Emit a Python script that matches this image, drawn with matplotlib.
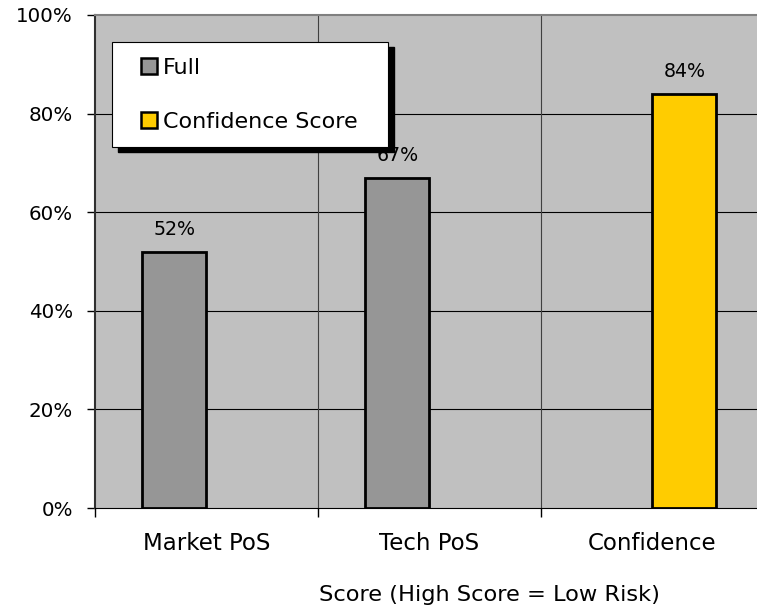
#!/usr/bin/env python3
import matplotlib
matplotlib.use('Agg')
import matplotlib.pyplot as plt
from matplotlib.patches import Rectangle
import numpy as np

categories = ['Market PoS', 'Tech PoS', 'Confidence']
full_values = [52, 67, None]
confidence_values = [None, None, 84]
y_ticks = [0, 20, 40, 60, 80, 100]
legend_labels = ['Full', 'Confidence Score']

W, H = 757, 608
DPI = 100


def px_box(x0, y0, x1, y1):
    # pixel box (top-left origin) -> figure fraction [left, bottom, width, height]
    return [x0 / W, 1 - y1 / H, (x1 - x0) / W, (y1 - y0) / H]


def main():
    plt.rcParams['font.family'] = 'DejaVu Sans'
    fig = plt.figure(figsize=(W / DPI, H / DPI), dpi=DPI)
    ax = fig.add_axes(px_box(95, 15, 757, 508))
    ax.set_facecolor('#C0C0C0')

    x = np.arange(len(categories))
    bw = 0.287
    for i in x:
        if full_values[i] is not None:
            ax.bar(i - bw / 2, full_values[i], width=bw, color='#969696',
                   edgecolor='black', linewidth=2, zorder=3)
            ax.text(i - bw / 2, full_values[i] + 3.4, f'{full_values[i]}%',
                    ha='center', va='baseline', fontsize=13.7, zorder=4)
        if confidence_values[i] is not None:
            ax.bar(i + bw / 2, confidence_values[i], width=bw, color='#FFCC00',
                   edgecolor='black', linewidth=2, zorder=3)
            ax.text(i + bw / 2, confidence_values[i] + 3.4, f'{confidence_values[i]}%',
                    ha='center', va='baseline', fontsize=13.7, zorder=4)

    ax.set_ylim(0, 100)
    ax.set_xlim(-0.5, 2.469)
    ax.set_yticks(y_ticks)
    ax.set_yticklabels([f'{v}%' for v in y_ticks], fontsize=14.3)
    ax.set_xticks(x)
    ax.set_xticklabels(categories, fontsize=16.5)
    ax.set_xticks([-0.5, 0.5, 1.5], minor=True)
    ax.tick_params(axis='x', which='major', length=0, pad=17)
    ax.tick_params(axis='x', which='minor', length=6.5, width=1, color='black')
    ax.tick_params(axis='y', length=6, width=1, color='black', direction='out', pad=10)

    for v in y_ticks[1:-1]:
        ax.axhline(v, color='black', linewidth=0.8, zorder=1)
    for b in [0.5, 1.5]:
        ax.axvline(b, color='#404040', linewidth=0.8, zorder=1)

    ax.spines['left'].set_color('#303030')
    ax.spines['left'].set_linewidth(1.5)
    ax.spines['bottom'].set_color('black')
    ax.spines['top'].set_color('#808080')
    ax.spines['top'].set_linewidth(1.5)
    ax.spines['right'].set_visible(False)

    fig.text(489 / W, 1 - 595 / H, 'Score (High Score = Low Risk)',
             ha='center', va='center', fontsize=16.2)

    # legend box with solid drop shadow
    shadow = Rectangle((118 / W, 1 - 152 / H), (388 - 112) / W, (147 - 42) / H,
                       transform=fig.transFigure, facecolor='black',
                       edgecolor='black', zorder=5)
    box = Rectangle((112 / W, 1 - 147 / H), (388 - 112) / W, (147 - 42) / H,
                    transform=fig.transFigure, facecolor='white',
                    edgecolor='black', linewidth=0.8, zorder=6)
    fig.add_artist(shadow)
    fig.add_artist(box)
    handles = [Rectangle((0, 0), 1, 1, facecolor='#969696', edgecolor='black', linewidth=1.8),
               Rectangle((0, 0), 1, 1, facecolor='#FFCC00', edgecolor='black', linewidth=1.8)]
    leg = fig.legend(handles, legend_labels, loc='upper left',
                     bbox_to_anchor=(141 / W, 1 - 58 / H), frameon=False,
                     fontsize=16, handlelength=0.72, handleheight=0.72,
                     handletextpad=0.25, labelspacing=1.52, borderpad=0,
                     borderaxespad=0)
    leg.set_zorder(7)

    fig.savefig('out.png', dpi=DPI)


if __name__ == "__main__":
    main()
